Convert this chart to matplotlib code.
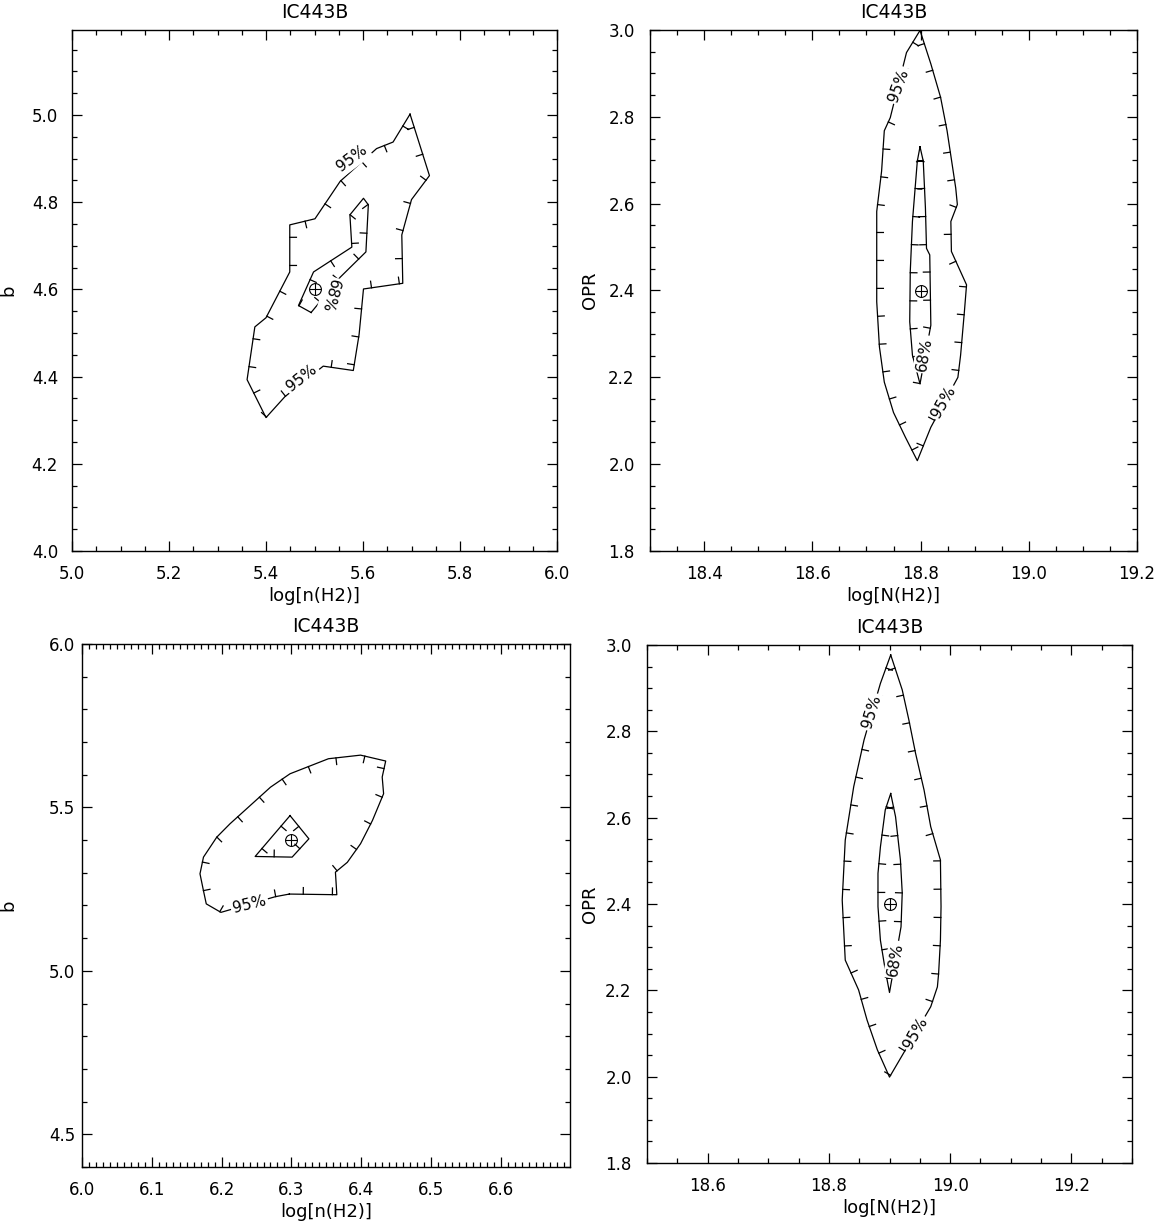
import matplotlib
matplotlib.use('Agg')
import matplotlib.pyplot as plt
import matplotlib.patheffects as pe
from matplotlib.ticker import MultipleLocator, FormatStrFormatter

plt.rcParams['font.family'] = ['DejaVu Sans']

title = 'IC443B'

# panel 1: log n(H2) vs b
p1_best = (5.5, 4.6)
p1_c95_x = [5.697, 5.737, 5.700, 5.680, 5.682, 5.601, 5.592, 5.580, 5.518, 5.439,
            5.400, 5.361, 5.377, 5.400, 5.449, 5.449, 5.501, 5.553, 5.628, 5.662]
p1_c95_y = [5.002, 4.861, 4.806, 4.725, 4.614, 4.601, 4.497, 4.414, 4.424, 4.354,
            4.306, 4.393, 4.514, 4.535, 4.640, 4.748, 4.762, 4.848, 4.923, 4.938]
p1_c68_x = [5.493, 5.467, 5.498, 5.577, 5.573, 5.601, 5.611, 5.606, 5.553]
p1_c68_y = [4.547, 4.563, 4.640, 4.697, 4.771, 4.809, 4.794, 4.686, 4.628]

# panel 2: log N(H2) vs OPR
p2_best = (18.8, 2.4)
p2_c95_x = [18.799, 18.819, 18.837, 18.849, 18.865, 18.868, 18.856, 18.857, 18.885, 18.881,
            18.874, 18.869, 18.819, 18.794, 18.772, 18.750, 18.733, 18.724, 18.719, 18.719,
            18.728, 18.733, 18.744, 18.774]
p2_c95_y = [2.999, 2.922, 2.845, 2.768, 2.636, 2.598, 2.559, 2.490, 2.413, 2.351,
            2.251, 2.200, 2.085, 2.008, 2.062, 2.119, 2.189, 2.270, 2.374, 2.582,
            2.675, 2.768, 2.798, 2.948]
p2_c68_x = [18.799, 18.805, 18.809, 18.811, 18.817, 18.819, 18.799, 18.785, 18.780, 18.781,
            18.785, 18.794]
p2_c68_y = [2.731, 2.698, 2.590, 2.497, 2.482, 2.320, 2.185, 2.251, 2.328, 2.444,
            2.559, 2.698]

# panel 3: log n(H2) vs b
p3_best = (6.3, 5.4)
p3_c95_x = [6.297, 6.365, 6.363, 6.380, 6.399, 6.416, 6.432, 6.430, 6.435, 6.399,
            6.353, 6.298, 6.270, 6.241, 6.212, 6.193, 6.174, 6.169, 6.174, 6.178,
            6.199, 6.277]
p3_c95_y = [5.235, 5.233, 5.302, 5.332, 5.389, 5.460, 5.542, 5.593, 5.642, 5.660,
            5.649, 5.603, 5.562, 5.506, 5.450, 5.409, 5.348, 5.297, 5.245, 5.205,
            5.179, 5.227]
p3_c68_x = [6.298, 6.325, 6.301, 6.248]
p3_c68_y = [5.475, 5.404, 5.348, 5.350]

# panel 4: log N(H2) vs OPR
p4_best = (18.9, 2.4)
p4_c95_x = [18.902, 18.921, 18.932, 18.943, 18.957, 18.968, 18.984, 18.985, 18.984, 18.981,
            18.979, 18.968, 18.900, 18.880, 18.863, 18.849, 18.827, 18.822, 18.827, 18.841,
            18.858, 18.885]
p4_c95_y = [2.977, 2.896, 2.826, 2.749, 2.664, 2.579, 2.502, 2.394, 2.316, 2.239,
            2.208, 2.162, 1.999, 2.062, 2.131, 2.201, 2.270, 2.409, 2.548, 2.672,
            2.780, 2.911]
p4_c68_x = [18.902, 18.910, 18.918, 18.921, 18.919, 18.900, 18.893, 18.885, 18.881, 18.881,
            18.885, 18.893]
p4_c68_y = [2.656, 2.602, 2.502, 2.426, 2.347, 2.195, 2.247, 2.316, 2.394, 2.471,
            2.532, 2.618]


def contour_line(ax, xs, ys):
    # closed contour with downhill ticks pointing inward (IDL style)
    xc = list(xs) + [xs[0]]
    yc = list(ys) + [ys[0]]
    area = sum(xc[i] * yc[i + 1] - xc[i + 1] * yc[i] for i in range(len(xs)))
    ang = 90 if area > 0 else -90
    ax.plot(xc, yc, color='k', lw=0.9,
            path_effects=[pe.withTickedStroke(angle=ang, spacing=20, length=0.24, linewidth=0.9)])


def level_label(ax, x, y, txt, rot):
    ax.text(x, y, txt, rotation=rot, rotation_mode='anchor', ha='center', va='center',
            fontsize=11, zorder=5,
            bbox=dict(facecolor='white', edgecolor='none', pad=1.5))


def best_point(ax, p):
    ax.plot(p[0], p[1], marker='o', ms=8.5, mfc='none', mec='k', mew=0.8, zorder=6)
    ax.plot(p[0], p[1], marker='+', ms=8.5, color='k', mew=0.8, zorder=6)


def style_axes(ax, xlim, ylim, xmaj, xmin, ymaj, ymin, xlabel, ylabel, ypad, ylab_x):
    ax.set_xlim(*xlim)
    ax.set_ylim(*ylim)
    ax.xaxis.set_major_locator(MultipleLocator(xmaj))
    ax.xaxis.set_minor_locator(MultipleLocator(xmin))
    ax.yaxis.set_major_locator(MultipleLocator(ymaj))
    ax.yaxis.set_minor_locator(MultipleLocator(ymin))
    ax.xaxis.set_major_formatter(FormatStrFormatter('%.1f'))
    ax.yaxis.set_major_formatter(FormatStrFormatter('%.1f'))
    ax.tick_params(which='both', direction='in', top=True, right=True, width=0.9, labelsize=12)
    ax.tick_params(which='major', length=7)
    ax.tick_params(which='minor', length=3.5)
    ax.tick_params(axis='x', pad=10)
    ax.tick_params(axis='y', pad=ypad)
    for s in ax.spines.values():
        s.set_linewidth(1.0)
    ax.set_xlabel(xlabel, fontsize=13, labelpad=3)
    ax.set_ylabel(ylabel, fontsize=13)
    ax.yaxis.set_label_coords(ylab_x, 0.5)
    ax.set_title(title, fontsize=13.5, pad=8.5)


fig = plt.figure(figsize=(11.64, 12.30), dpi=100)
ax1 = fig.add_axes([72 / 1164, 679 / 1230, 485 / 1164, 521 / 1230])
ax2 = fig.add_axes([650 / 1164, 679 / 1230, 487 / 1164, 521 / 1230])
ax3 = fig.add_axes([82 / 1164, 63 / 1230, 488 / 1164, 523 / 1230])
ax4 = fig.add_axes([647 / 1164, 67 / 1230, 485 / 1164, 518 / 1230])

# panel 1
style_axes(ax1, (5.0, 6.0), (4.0, 5.195), 0.2, 0.05, 0.2, 0.05, 'log[n(H2)]', 'b', 10, -0.113)
contour_line(ax1, p1_c95_x, p1_c95_y)
contour_line(ax1, p1_c68_x, p1_c68_y)
level_label(ax1, 5.577, 4.900, '95%', 37)
level_label(ax1, 5.474, 4.396, '95%', 38)
level_label(ax1, 5.532, 4.585, '68%', -105)
best_point(ax1, p1_best)

# panel 2
style_axes(ax2, (18.3, 19.2), (1.8, 3.0), 0.2, 0.05, 0.2, 0.05, 'log[N(H2)]', 'OPR', 11, -0.105)
contour_line(ax2, p2_c95_x, p2_c95_y)
contour_line(ax2, p2_c68_x, p2_c68_y)
level_label(ax2, 18.759, 2.873, '95%', 70)
level_label(ax2, 18.843, 2.143, '95%', 60)
level_label(ax2, 18.808, 2.253, '68%', 80)
best_point(ax2, p2_best)

# panel 3
style_axes(ax3, (6.0, 6.699), (4.4, 6.0), 0.1, 0.01, 0.5, 0.1, 'log[n(H2)]', 'b', 5, -0.133)
contour_line(ax3, p3_c95_x, p3_c95_y)
contour_line(ax3, p3_c68_x, p3_c68_y)
level_label(ax3, 6.240, 5.203, '95%', 14)
best_point(ax3, p3_best)

# panel 4
style_axes(ax4, (18.5, 19.3), (1.8, 3.0), 0.2, 0.05, 0.2, 0.05, 'log[N(H2)]', 'OPR', 11, -0.099)
contour_line(ax4, p4_c95_x, p4_c95_y)
contour_line(ax4, p4_c68_x, p4_c68_y)
level_label(ax4, 18.871, 2.845, '95%', 73)
level_label(ax4, 18.943, 2.101, '95%', 60)
level_label(ax4, 18.910, 2.271, '68%', 80)
best_point(ax4, p4_best)

fig.savefig('out.png', dpi=100)
